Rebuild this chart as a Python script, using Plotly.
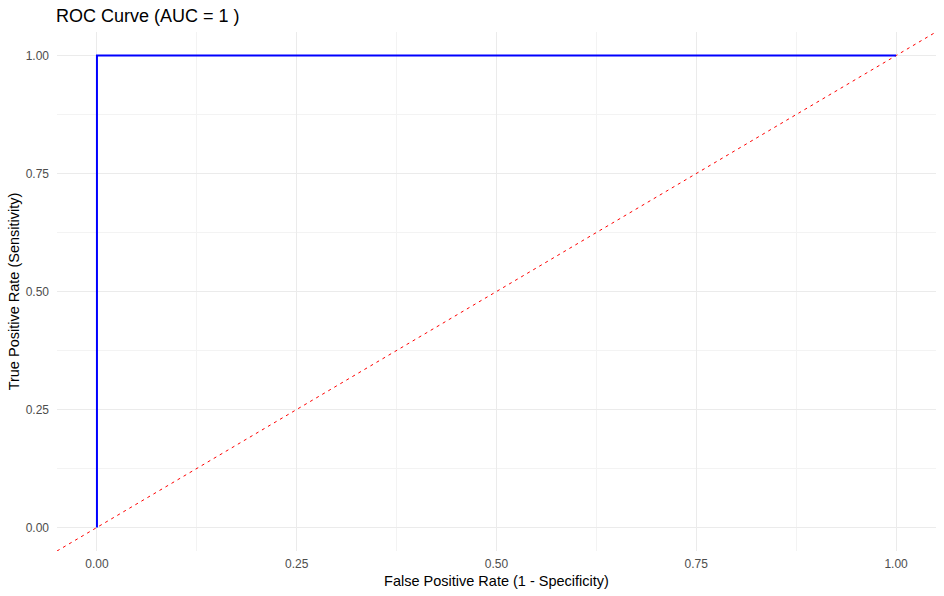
import plotly.graph_objects as go

# ROC curve data
fpr = [0.0, 0.0, 1.0]
tpr = [0.0, 1.0, 1.0]
auc_value = 1

# reference line y = x spanning axis range
axis_range = [-0.05, 1.05]
ref_x = axis_range
ref_y = axis_range

tick_vals = [0.0, 0.25, 0.5, 0.75, 1.0]
tick_text = ["0.00", "0.25", "0.50", "0.75", "1.00"]
minor_vals = [0.125, 0.375, 0.625, 0.875]

fig = go.Figure()
fig.add_trace(go.Scatter(x=ref_x, y=ref_y, mode="lines",
                         line=dict(color="#FF0000", width=1, dash="3px,4px"),
                         hoverinfo="skip", showlegend=False))
fig.add_trace(go.Scatter(x=fpr, y=tpr, mode="lines",
                         line=dict(color="#0000FF", width=2),
                         showlegend=False))

font_family = "Liberation Sans, Arial, sans-serif"
axis_common = dict(
    range=axis_range, tickvals=tick_vals, ticktext=tick_text,
    showgrid=True, gridcolor="#EBEBEB", gridwidth=1,
    zeroline=False, showline=False, ticks="",
    tickfont=dict(family=font_family, size=12, color="#4D4D4D"),
    minor=dict(tickvals=minor_vals, showgrid=True, gridcolor="#F3F3F3", gridwidth=0.7),
)

fig.update_layout(
    width=944, height=596,
    paper_bgcolor="white", plot_bgcolor="white",
    margin=dict(l=57, r=8, t=32, b=45),
    title=dict(text=f"ROC Curve (AUC = {auc_value} )", x=56/944, xanchor="left",
               y=1 - 16/596, yanchor="middle",
               font=dict(family=font_family, size=18, color="black")),
    xaxis=dict(**axis_common, ticklabelstandoff=4,
               title=dict(text="False Positive Rate (1 - Specificity)", standoff=5,
                          font=dict(family=font_family, size=14.5, color="black"))),
    yaxis=dict(**axis_common, ticklabelstandoff=7,
               title=dict(text="True Positive Rate (Sensitivity)", standoff=2,
                          font=dict(family=font_family, size=14.5, color="black"))),
)

fig.write_html("out.html", config={"displayModeBar": False},
               post_script="document.body.style.margin='0';document.body.style.padding='0';")
